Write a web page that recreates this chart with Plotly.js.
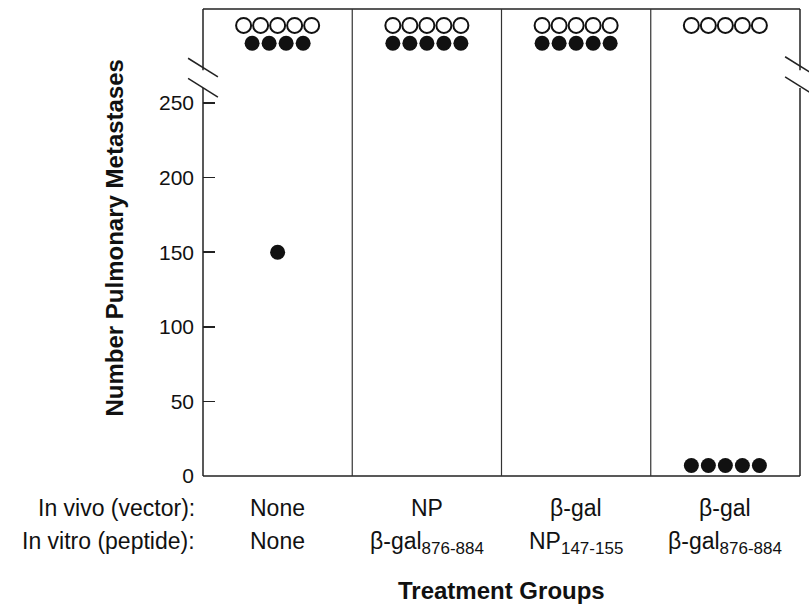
<!DOCTYPE html>
<html>
<head>
<meta charset="utf-8">
<script src="https://cdn.plot.ly/plotly-3.0.1.min.js"></script>
<style>html,body{margin:0;padding:0;background:#fff;}#chart{width:809px;height:604px;}</style>
</head>
<body>
<div id="chart"></div>
<script>
// ---- data ----
const groupIds = [1, 2, 3, 4];
const vivoLabels = ['None', 'NP', 'β-gal', 'β-gal'];
const vitroMain = ['None', 'β-gal', 'NP', 'β-gal'];
const vitroSub = ['', '876-884', '147-155', '876-884'];
const rowLabels = ['In vivo (vector):', 'In vitro (peptide):'];
// values above the axis break (>250, too numerous to count) drawn in the break zone
const openValues = [
  [302, 302, 302, 302, 302],
  [302, 302, 302, 302, 302],
  [302, 302, 302, 302, 302],
  [302, 302, 302, 302, 302]
];
const filledValues = [
  [290, 290, 290, 290, 150],
  [290, 290, 290, 290, 290],
  [290, 290, 290, 290, 290],
  [7, 7, 7, 7, 7]
];
const yTicks = [0, 50, 100, 150, 200, 250];

// ---- build scatter positions (points with equal value are set side by side) ----
const step = 0.114;
function spread(valuesByGroup) {
  const xs = [], ys = [];
  valuesByGroup.forEach((vals, g) => {
    const counts = {};
    vals.forEach(v => counts[v] = (counts[v] || 0) + 1);
    const seen = {};
    vals.forEach(v => {
      const n = counts[v];
      const j = seen[v] || 0;
      seen[v] = j + 1;
      xs.push(groupIds[g] + (j - (n - 1) / 2) * step);
      ys.push(v);
    });
  });
  return {xs, ys};
}
const o = spread(openValues);
const f = spread(filledValues);

const traces = [
  {x: o.xs, y: o.ys, type: 'scatter', mode: 'markers', cliponaxis: false,
   marker: {symbol: 'circle-open', size: 15, color: '#111', line: {width: 2, color: '#111'}},
   hoverinfo: 'skip'},
  {x: f.xs, y: f.ys, type: 'scatter', mode: 'markers', cliponaxis: false,
   marker: {symbol: 'circle', size: 15, color: '#111'}, hoverinfo: 'skip'}
];

const yTop = 313;
const lc = '#222';
const shapes = [
  {type: 'line', xref: 'paper', yref: 'paper', x0: 0, x1: 1, y0: 1, y1: 1, line: {color: lc, width: 1.5}},
  {type: 'line', xref: 'paper', yref: 'paper', x0: 0, x1: 1, y0: 0, y1: 0, line: {color: lc, width: 1.5}},
  // left axis with break
  {type: 'line', xref: 'paper', yref: 'y', x0: 0, x1: 0, y0: 0, y1: 260, line: {color: lc, width: 1.5}},
  {type: 'line', xref: 'paper', yref: 'y', x0: 0, x1: 0, y0: 272, y1: yTop, line: {color: lc, width: 1.5}},
  {type: 'line', xref: 'paper', yref: 'y', x0: -0.025, x1: 0.025, y0: 280, y1: 267.5, line: {color: lc, width: 1.5}},
  {type: 'line', xref: 'paper', yref: 'y', x0: -0.025, x1: 0.025, y0: 266.5, y1: 254, line: {color: lc, width: 1.5}},
  // right axis with break
  {type: 'line', xref: 'paper', yref: 'y', x0: 1, x1: 1, y0: 0, y1: 260, line: {color: lc, width: 1.5}},
  {type: 'line', xref: 'paper', yref: 'y', x0: 1, x1: 1, y0: 272, y1: yTop, line: {color: lc, width: 1.5}},
  {type: 'line', xref: 'paper', yref: 'y', x0: 0.975, x1: 1.025, y0: 281, y1: 268.5, line: {color: lc, width: 1.5}},
  {type: 'line', xref: 'paper', yref: 'y', x0: 0.975, x1: 1.025, y0: 267.5, y1: 255, line: {color: lc, width: 1.5}}
];
// dividers between groups
for (let i = 0; i < groupIds.length - 1; i++) {
  const xm = (groupIds[i] + groupIds[i + 1]) / 2;
  shapes.push({type: 'line', xref: 'x', yref: 'paper', x0: xm, x1: xm, y0: 0, y1: 1, line: {color: '#333', width: 1.2}});
}

const fam = 'Liberation Sans, Arial, Helvetica, sans-serif';
const fnt = size => ({family: fam, color: '#111', size: size});
const labelSize = 23;
const row1 = -17, row2 = -50;
const annotations = [];
groupIds.forEach((g, i) => {
  annotations.push({xref: 'x', yref: 'paper', x: g, y: 0, yshift: row1, xanchor: 'center', yanchor: 'top',
    text: vivoLabels[i], showarrow: false, font: fnt(labelSize)});
  const t = vitroMain[i] + (vitroSub[i] ? '<sub><span style="font-size:17px">' + vitroSub[i] + '</span></sub>' : '');
  annotations.push({xref: 'x', yref: 'paper', x: g, y: 0, yshift: row2, xanchor: 'center', yanchor: 'top',
    text: t, showarrow: false, font: fnt(labelSize)});
});
annotations.push({xref: 'paper', yref: 'paper', x: 0, xshift: -6, y: 0, yshift: row1, xanchor: 'right', yanchor: 'top',
  text: rowLabels[0], showarrow: false, font: fnt(labelSize)});
annotations.push({xref: 'paper', yref: 'paper', x: 0, xshift: -6, y: 0, yshift: row2, xanchor: 'right', yanchor: 'top',
  text: rowLabels[1], showarrow: false, font: fnt(labelSize)});
annotations.push({xref: 'paper', yref: 'paper', x: 0.5, y: 0, yshift: -114, xanchor: 'center', yanchor: 'middle',
  text: '<b>Treatment Groups</b>', showarrow: false, font: fnt(24)});
annotations.push({xref: 'paper', yref: 'paper', x: 0, xshift: -89, y: 0.5, yshift: 4, xanchor: 'center', yanchor: 'middle',
  textangle: -90, text: '<b>Number Pulmonary Metastases</b>', showarrow: false, font: fnt(24)});

const layout = {
  width: 809, height: 604,
  margin: {l: 203, r: 9, t: 9, b: 128},
  paper_bgcolor: '#fff', plot_bgcolor: '#fff',
  showlegend: false,
  font: fnt(20),
  xaxis: {range: [0.5, 4.5], showgrid: false, zeroline: false, showline: false, showticklabels: false, ticks: '', fixedrange: true},
  yaxis: {range: [0, yTop], tickvals: yTicks, ticktext: yTicks.map(String), ticks: 'inside', ticklen: 12, tickwidth: 1.5,
          tickcolor: lc, showgrid: false, zeroline: false, showline: false, ticklabelstandoff: 8,
          tickfont: fnt(21), fixedrange: true},
  shapes: shapes,
  annotations: annotations
};

Plotly.newPlot('chart', traces, layout, {displayModeBar: false, staticPlot: true});
</script>
</body>
</html>
